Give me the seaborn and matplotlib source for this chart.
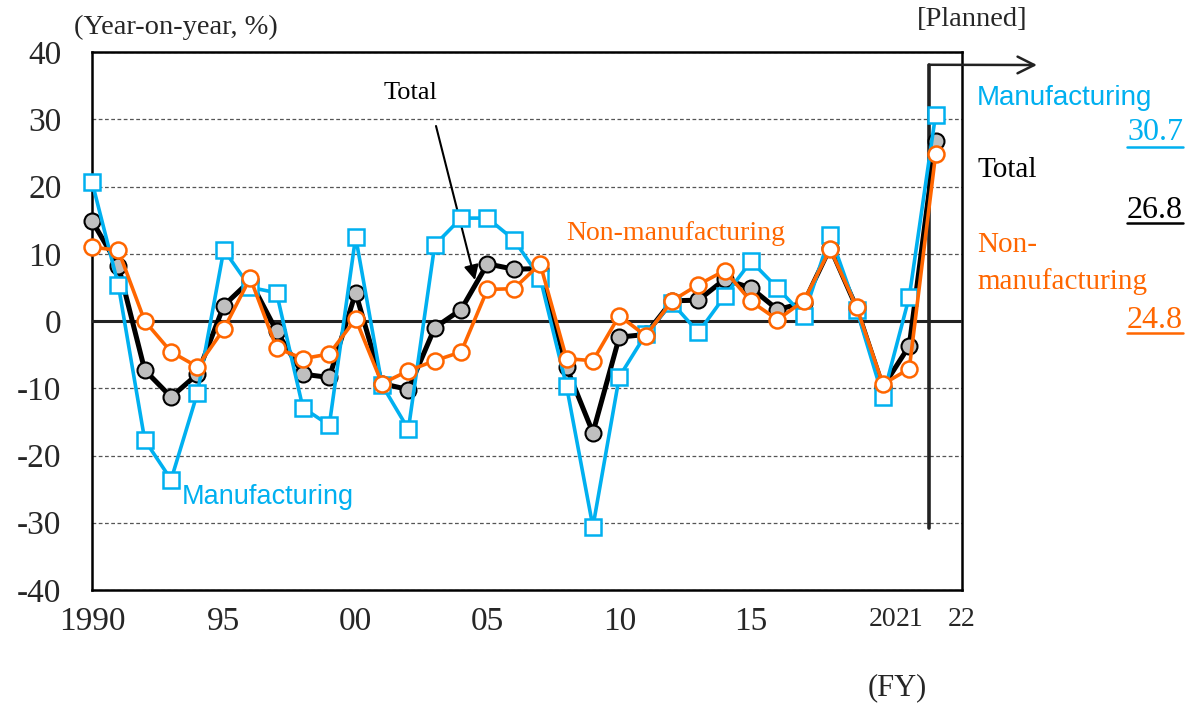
import matplotlib
matplotlib.use("Agg")
import matplotlib.pyplot as plt
import seaborn as sns
import numpy as np
from matplotlib.lines import Line2D

years = list(range(1990, 2023))
manufacturing = [20.7, 5.3, -17.7, -23.6, -10.7, 10.6, 5.0, 4.2, -12.9, -15.5,
                 12.5, -9.5, -16.1, 11.3, 15.3, 15.3, 12.1, 6.4, -9.7, -30.6,
                 -8.3, -2.0, 2.7, -1.7, 3.7, 8.9, 4.9, 0.8, 12.8, 1.7,
                 -11.3, 3.6, 30.7]
total = [14.9, 8.2, -7.3, -11.3, -7.9, 2.3, 6.0, -1.5, -7.9, -8.4,
         4.2, -9.3, -10.2, -1.0, 1.7, 8.5, 7.7, 7.8, -6.9, -16.6,
         -2.4, -2.0, 3.0, 3.1, 6.2, 4.9, 1.7, 2.7, 10.9, 2.0,
         -9.8, -3.7, 26.8]
non_manufacturing = [11.0, 10.5, 0.0, -4.6, -6.8, -1.2, 6.4, -4.0, -5.6, -4.9,
                     0.3, -9.3, -7.4, -5.9, -4.6, 4.7, 4.8, 8.5, -5.6, -5.9,
                     0.8, -2.2, 3.0, 5.4, 7.5, 2.9, 0.2, 3.0, 10.7, 2.1,
                     -9.4, -7.1, 24.8]
major_labels = ["1990", "95", "00", "05", "10", "15"]
major_pos = [1990, 1995, 2000, 2005, 2010, 2015]
small_labels = ["20", "21", "22"]
small_pos = [2020, 2021, 2023]
y_ticks = [-40, -30, -20, -10, 0, 10, 20, 30, 40]

BLUE = "#00B0F0"
ORANGE = "#FF6600"
SERIF = "Liberation Serif"
SANS = "Liberation Sans"

sns.set_theme(style="white")
plt.rcParams["font.family"] = [SERIF, "DejaVu Serif"]

W, H = 1200, 704
fig = plt.figure(figsize=(12, 7.04), dpi=100)

def fx(px):
    return px / W

def fy(py):
    return 1 - py / H

ax = fig.add_axes([fx(92), fy(590), fx(962) - fx(92), fy(52) - fy(590)])

# planned line (under the markers)
ax.plot([2021.74, 2021.74], [-30.8, 38.1], color="#222222", lw=2.6, zorder=3.5, clip_on=False)

sns.lineplot(x=years, y=total, ax=ax, color="black", lw=3.6, marker="o",
             markersize=11.5, markerfacecolor="#BFBFBF", markeredgecolor="black",
             markeredgewidth=1.5, zorder=4, legend=False, clip_on=False)
sns.lineplot(x=years, y=manufacturing, ax=ax, color=BLUE, lw=2.6, marker="s",
             markersize=11, markerfacecolor="white", markeredgecolor=BLUE,
             markeredgewidth=1.8, zorder=5, legend=False, clip_on=False)
sns.lineplot(x=years, y=non_manufacturing, ax=ax, color=ORANGE, lw=2.6, marker="o",
             markersize=11.5, markerfacecolor="white", markeredgecolor=ORANGE,
             markeredgewidth=1.8, zorder=6, legend=False, clip_on=False)

ax.set_xlim(1990, 2023)
ax.set_ylim(-40, 40)
ax.set_yticks(y_ticks)
ax.set_yticklabels([str(v) for v in y_ticks], fontsize=24, family=SERIF)
ax.set_xticks(major_pos + small_pos)
ax.set_xticklabels(major_labels + small_labels, family=SERIF)
for lab in ax.get_xticklabels():
    lab.set_fontsize(24 if lab.get_text() in major_labels else 20)
ax.set_xticks([1995, 2000, 2005, 2010, 2015, 2020], minor=True)
ax.tick_params(axis="both", which="both", length=0)
ax.tick_params(axis="y", pad=22)
ax.tick_params(axis="x", pad=12)
ax.grid(False)
ax.grid(True, which="minor", axis="x", color="#555555", ls=(0, (3, 2)), lw=0.9)
ax.grid(True, which="major", axis="y", color="#555555", ls=(0, (3, 2)), lw=0.9)
ax.axhline(0, color="#222222", lw=2.2, zorder=3)
for s in ax.spines.values():
    s.set_color("black")
    s.set_linewidth(1.8)
ax.set_xlabel("")
ax.set_ylabel("")

ax.annotate("", xy=(fx(1037), fy(65)), xycoords="figure fraction",
            xytext=(2021.74, 38.1), textcoords="data",
            arrowprops=dict(arrowstyle="->", color="#222222", lw=1.8,
                            mutation_scale=30, shrinkA=0, shrinkB=0))

# "Total" annotation
fig.text(fx(410), fy(93), "Total", fontsize=19, ha="center", va="center", color="black")
ax.annotate("", xy=(fx(475), fy(280)), xycoords="figure fraction",
            xytext=(fx(436), fy(126)), textcoords="figure fraction",
            arrowprops=dict(arrowstyle="-|>", color="black", lw=1.5,
                            mutation_scale=22, shrinkA=0, shrinkB=0))

fig.text(fx(268), fy(497), "Manufacturing", fontsize=19.5, ha="center", va="center",
         color=BLUE, family=SANS)
fig.text(fx(676), fy(234), "Non-manufacturing", fontsize=20, ha="center", va="center",
         color=ORANGE)

fig.text(fx(176), fy(27), "(Year-on-year, %)", fontsize=20.5, ha="center", va="center")
fig.text(fx(897), fy(688), "(FY)", fontsize=22, ha="center", va="center")
fig.text(fx(972), fy(20), "[Planned]", fontsize=20.5, ha="center", va="center")

# right side labels
fig.text(fx(977), fy(98), "Manufacturing", fontsize=20, ha="left", va="center",
         color=BLUE, family=SANS)
fig.text(fx(977), fy(170), "Total", fontsize=21, ha="left", va="center", color="black")
fig.text(fx(977), fy(245), "Non-", fontsize=21, ha="left", va="center", color=ORANGE)
fig.text(fx(977), fy(282), "manufacturing", fontsize=21, ha="left", va="center", color=ORANGE)

nums = [("30.7", 133, 147, BLUE), ("26.8", 210, 223, "black"), ("24.8", 320, 333, ORANGE)]
num_texts = []
for s, yc, yl, c in nums:
    t = fig.text(fx(1183), fy(yc), s, fontsize=23, ha="right", va="center", color=c)
    num_texts.append((t, yl, c))

fig.canvas.draw()
renderer = fig.canvas.get_renderer()
for t, yl, c in num_texts:
    bb = t.get_window_extent(renderer)
    fig.add_artist(Line2D([bb.x0 / W, bb.x1 / W], [fy(yl), fy(yl)],
                          transform=fig.transFigure, color=c, lw=1.8))

fig.savefig("out.png", dpi=100)
